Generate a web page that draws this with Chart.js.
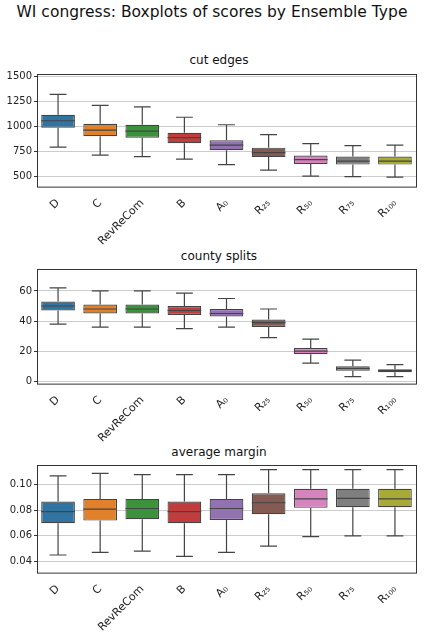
<!DOCTYPE html>
<html><head><meta charset="utf-8">
<script src="https://cdn.jsdelivr.net/npm/chart.js@4"></script>
<style>
body{margin:0;width:424px;height:636px;background:#fff;position:relative;font-family:"DejaVu Sans",sans-serif;overflow:hidden}
.t{position:absolute;width:100%;text-align:center;color:#111}
canvas{position:absolute;left:0}
</style></head><body>
<div class="t" style="top:3px;font-size:15.5px;left:0">WI congress: Boxplots of scores by Ensemble Type</div>
<div class="t" style="top:53px;font-size:12px;left:14px;width:410px">cut edges</div>
<div class="t" style="top:249px;font-size:12px;left:14px;width:410px">county splits</div>
<div class="t" style="top:445px;font-size:12px;left:14px;width:410px">average margin</div>
<canvas id="c1"></canvas><canvas id="c2"></canvas><canvas id="c3"></canvas>
<script>
const categories=["D","C","RevReCom","B","A₀","R₂₅","R₅₀","R₇₅","R₁₀₀"];
const colors=["#3274a1","#e1812c","#3a923a","#c03d3e","#9372b2","#845b53","#d684bd","#7f7f7f","#a9aa35"];
// [min,q1,median,q3,max]
const cutEdges=[[795,990,1060,1120,1325],[715,905,965,1030,1215],[700,890,955,1020,1200],[675,835,890,940,1095],[620,765,815,865,1020],[565,695,740,790,920],[505,625,670,710,830],[500,620,655,700,810],[495,620,655,700,815]];
const countySplits=[[38,47,50,53,62],[36,45,48,51,60],[36,45,48,51,60],[35,44,47,50,58.5],[36,43,45,48,55],[29,36,39,41,48],[12,18,20,22,28],[3,7,8.5,10,14],[3,6,7,8,11]];
const avgMargin=[[.045,.070,.079,.087,.107],[.047,.072,.081,.089,.109],[.048,.073,.0815,.089,.108],[.044,.070,.079,.087,.108],[.047,.0725,.0815,.089,.108],[.052,.077,.086,.0935,.112],[.0595,.082,.089,.097,.112],[.060,.0825,.0895,.097,.112],[.060,.0825,.089,.097,.112]];
const cutTicks=[500,750,1000,1250,1500], countyTicks=[0,20,40,60], marginTicks=[0.04,0.06,0.08,0.10];

function boxPlug(d){return {id:'box',afterDatasetsDraw(ch){
  const ctx=ch.ctx,y=ch.scales.y,meta=ch.getDatasetMeta(0);
  ctx.save();ctx.strokeStyle='#444';ctx.lineWidth=1.2;
  meta.data.forEach((b,i)=>{const s=d[i];if(!s)return;const x=b.x,hw=b.width/4,w2=b.width/2;
    const p=v=>y.getPixelForValue(v);
    ctx.beginPath();
    ctx.moveTo(x,p(s[1]));ctx.lineTo(x,p(s[0]));ctx.moveTo(x-hw,p(s[0]));ctx.lineTo(x+hw,p(s[0]));
    ctx.moveTo(x,p(s[3]));ctx.lineTo(x,p(s[4]));ctx.moveTo(x-hw,p(s[4]));ctx.lineTo(x+hw,p(s[4]));
    ctx.moveTo(x-w2,p(s[2]));ctx.lineTo(x+w2,p(s[2]));ctx.stroke();});
  const a=ch.chartArea;ctx.strokeStyle='#333';ctx.lineWidth=1;ctx.strokeRect(a.left+.5,a.top+.5,a.right-a.left,a.bottom-a.top);
  ctx.restore();}};}

function make(id,top,h,stats,ticks,min,max,fmt){
  const c=document.getElementById(id);c.style.top=top+'px';c.width=424;c.height=h;
  new Chart(c,{type:'bar',data:{labels:categories,datasets:[{data:stats.map(s=>[s[1],s[3]]),backgroundColor:colors,borderColor:'#444',borderWidth:1.2,borderSkipped:false,barPercentage:0.8,categoryPercentage:1}]},
    options:{responsive:false,animation:false,devicePixelRatio:1,layout:{padding:{top:5,right:8,left:0,bottom:0}},
      plugins:{legend:{display:false},tooltip:{enabled:false}},
      scales:{x:{grid:{display:false},border:{display:false},ticks:{color:'#222',font:{family:'DejaVu Sans',size:11},minRotation:45,maxRotation:45,padding:2}},
        y:{min,max,afterBuildTicks:ax=>{ax.ticks=ticks.map(v=>({value:v}))},afterFit:ax=>{ax.width=37},border:{display:false},
          grid:{color:'#cccccc',lineWidth:1,drawTicks:true,tickLength:3,tickColor:'#333'},ticks:{color:'#222',font:{family:'DejaVu Sans',size:10},callback:fmt,padding:2}}}},
    plugins:[boxPlug(stats)]});
}
make('c1',66,184,cutEdges,cutTicks,399,1529,v=>v);
make('c2',261,186,countySplits,countyTicks,-1.6,74.6,v=>v);
make('c3',457,179,avgMargin,marginTicks,0.0312,0.1156,v=>v.toFixed(2));
</script></body></html>
